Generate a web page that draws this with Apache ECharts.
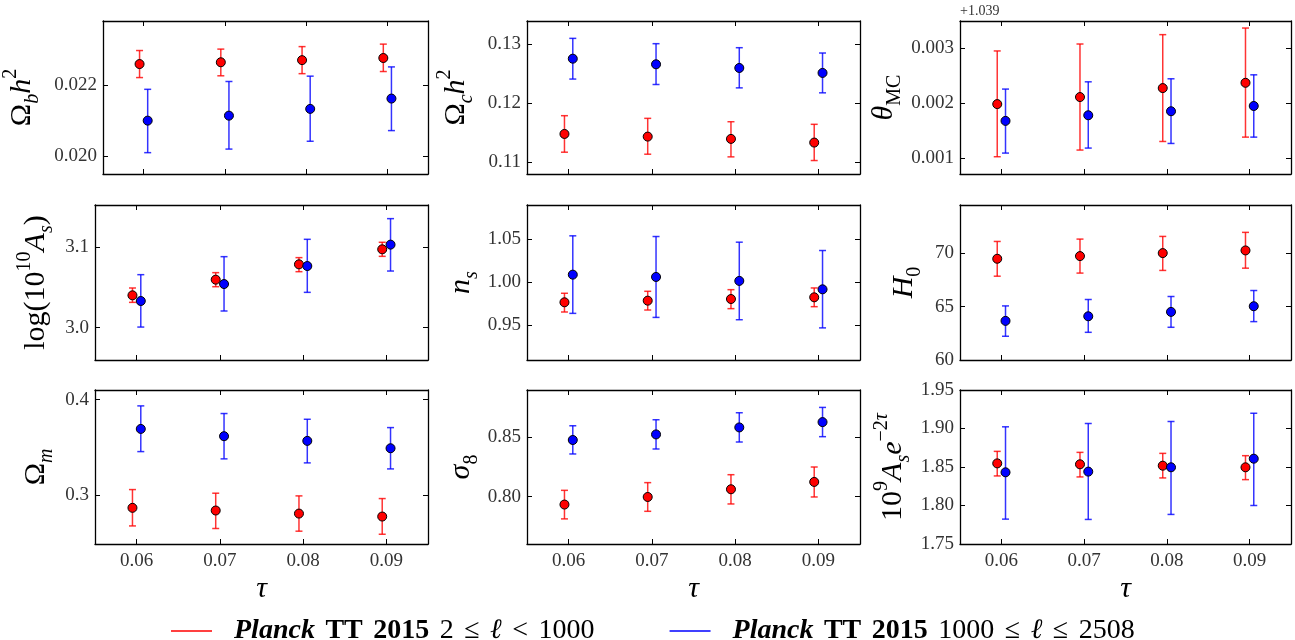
<!DOCTYPE html>
<html><head><meta charset="utf-8">
<script src="https://cdn.jsdelivr.net/npm/echarts@6/dist/echarts.min.js"></script>
<style>html,body{margin:0;padding:0;background:#fff}#c{width:1295px;height:640px}</style>
</head><body><div id="c"></div>
<script>
// ---------------- data ----------------
const tau = [0.06, 0.07, 0.08, 0.09];
const tauTickLabels = ['0.06', '0.07', '0.08', '0.09'];
// each entry: [central value, lower end of error bar, upper end of error bar]
const obh2Low  = [[0.02259,0.02221,0.02297],[0.02264,0.02226,0.02301],[0.02270,0.02232,0.02308],[0.02276,0.02238,0.02315]];
const obh2High = [[0.02100,0.02010,0.02188],[0.02114,0.02020,0.02210],[0.02133,0.02042,0.02225],[0.02162,0.02072,0.02251]];
const och2Low  = [[0.11478,0.11169,0.11787],[0.11433,0.11135,0.11742],[0.11394,0.11090,0.11685],[0.11332,0.11028,0.11641]];
const och2High = [[0.12752,0.12407,0.13096],[0.12657,0.12315,0.13006],[0.12595,0.12258,0.12938],[0.12511,0.12174,0.12848]];
// theta_MC shown relative to the offset +1.039
const thetaOffsetText = '+1.039';
const thetaLow  = [[0.001980,0.001024,0.002946],[0.002108,0.001145,0.003072],[0.002271,0.001301,0.003242],[0.002367,0.001380,0.003362]];
const thetaHigh = [[0.001675,0.001090,0.002253],[0.001777,0.001181,0.002385],[0.001850,0.001265,0.002440],[0.001946,0.001380,0.002512]];
const logAsLow  = [[3.0401,3.0314,3.0492],[3.0595,3.0508,3.0682],[3.0785,3.0694,3.0868],[3.0971,3.0884,3.1058]];
const logAsHigh = [[3.0331,3.0008,3.0657],[3.0541,3.0207,3.0880],[3.0764,3.0438,3.1095],[3.1029,3.0702,3.1351]];
const nsLow  = [[0.9767,0.9654,0.9872],[0.9786,0.9677,0.9895],[0.9805,0.9693,0.9914],[0.9825,0.9716,0.9934]];
const nsHigh = [[1.0089,0.9638,1.0541],[1.0062,0.9591,1.0533],[1.0016,0.9564,1.0467],[0.9918,0.9469,1.0370]];
const h0Low  = [[69.47,67.84,71.09],[69.72,68.13,71.31],[70.00,68.38,71.56],[70.25,68.59,71.94]];
const h0High = [[63.66,62.22,65.06],[64.09,62.59,65.66],[64.50,63.06,65.94],[65.03,63.59,66.50]];
const omLow  = [[0.2868,0.2679,0.3059],[0.2840,0.2652,0.3021],[0.2808,0.2624,0.2993],[0.2777,0.2592,0.2965]];
const omHigh = [[0.3693,0.3456,0.3934],[0.3617,0.3380,0.3854],[0.3568,0.3338,0.3794],[0.3491,0.3275,0.3707]];
const s8Low  = [[0.7933,0.7812,0.8053],[0.7997,0.7876,0.8118],[0.8062,0.7938,0.8185],[0.8124,0.7997,0.8250]];
const s8High = [[0.8478,0.8360,0.8598],[0.8525,0.8402,0.8649],[0.8584,0.8461,0.8708],[0.8629,0.8506,0.8753]];
const asLow  = [[1.8547,1.8384,1.8703],[1.8535,1.8371,1.8690],[1.8517,1.8358,1.8677],[1.8496,1.8336,1.8647]];
const asHigh = [[1.8431,1.7823,1.9022],[1.8440,1.7819,1.9065],[1.8496,1.7884,1.9091],[1.8608,1.8000,1.9198]];
// y tick labels
const obh2Ticks  = ['0.020', '0.022'];
const och2Ticks  = ['0.11', '0.12', '0.13'];
const thetaTicks = ['0.001', '0.002', '0.003'];
const logAsTicks = ['3.0', '3.1'];
const nsTicks    = ['0.95', '1.00', '1.05'];
const h0Ticks    = ['60', '65', '70'];
const omTicks    = ['0.3', '0.4'];
const s8Ticks    = ['0.80', '0.85'];
const asTicks    = ['1.75', '1.80', '1.85', '1.90', '1.95'];
const nameLow  = 'Planck TT 2015 2 ≤ ℓ < 1000';
const nameHigh = 'Planck TT 2015 1000 ≤ ℓ ≤ 2508';

// ---------------- styling / layout ----------------
const SERIF = "Liberation Serif";
const RED = '#ff0000', BLUE = '#0000ff';
const RED_BAR = 'rgba(255,0,0,0.8)', BLUE_BAR = 'rgba(0,0,255,0.8)';
const DODGE = 0.0005;
const COL_L = [95, 527, 960], COL_W = [333, 333, 331];
const ROW_T = [21, 205, 390], ROW_H = [153, 155, 154];
const LFS = 30;
const RICH = {
  r:   {fontFamily: SERIF, fontSize: LFS, lineHeight: 42, color: '#000'},
  i:   {fontFamily: SERIF, fontSize: LFS, lineHeight: 42, fontStyle: 'italic', color: '#000'},
  si:  {fontFamily: SERIF, fontSize: 20, lineHeight: 20, fontStyle: 'italic', verticalAlign: 'bottom', color: '#000'},
  sr:  {fontFamily: SERIF, fontSize: 20, lineHeight: 20, verticalAlign: 'bottom', color: '#000'},
  sup: {fontFamily: SERIF, fontSize: 20, lineHeight: 20, verticalAlign: 'top', color: '#000'},
  supi:{fontFamily: SERIF, fontSize: 20, lineHeight: 20, fontStyle: 'italic', verticalAlign: 'top', color: '#000'}
};
const TICK_RICH = {t: {fontFamily: SERIF, fontSize: 19, color: '#333'}};

const panels = [
  {low: obh2Low, high: obh2High, ticks: obh2Ticks, min: 0.0195, max: 0.0238, gap: 60, label: '{r|Ω}{si|b}{i|h}{sup|2}'},
  {low: och2Low, high: och2High, ticks: och2Ticks, min: 0.1080, max: 0.1339, gap: 50, label: '{r|Ω}{si|c}{i|h}{sup|2}'},
  {low: thetaLow, high: thetaHigh, ticks: thetaTicks, min: 0.00071, max: 0.00349, gap: 55, label: '{i|θ}{sr|MC}'},
  {low: logAsLow, high: logAsHigh, ticks: logAsTicks, min: 2.960, max: 3.152, gap: 38, label: '{r|log(10}{sup|10}{i|A}{si|s}{r|)}'},
  {low: nsLow, high: nsHigh, ticks: nsTicks, min: 0.9095, max: 1.0900, gap: 45, label: '{i|n}{si|s}'},
  {low: h0Low, high: h0High, ticks: h0Ticks, min: 60, max: 74.5, gap: 35, label: '{i|H}{sr|0}'},
  {low: omLow, high: omHigh, ticks: omTicks, min: 0.249, max: 0.410, gap: 38, label: '{r|Ω}{si|m}'},
  {low: s8Low, high: s8High, ticks: s8Ticks, min: 0.760, max: 0.890, gap: 45, label: '{i|σ}{sr|8}'},
  {low: asLow, high: asHigh, ticks: asTicks, min: 1.75, max: 1.95, gap: 46, label: '{r|10}{sup|9}{i|A}{si|s}{i|e}{sup|−2}{supi|τ}'}
];

const axisLine = {show: true, onZero: false, lineStyle: {color: '#000', width: 1.3}};
const tickStyle = {show: true, inside: true, length: 5, lineStyle: {color: '#000', width: 1}};

const grid = [], xAxis = [], yAxis = [], series = [];

function errRender(color) {
  return function (params, api) {
    const x = api.value(0), lo = api.value(1), hi = api.value(2);
    const a = api.coord([x, hi]), b = api.coord([x, lo]);
    const w = 3.5;
    const st = {stroke: color, lineWidth: 1.5, fill: null};
    return {type: 'group', children: [
      {type: 'line', shape: {x1: a[0], y1: a[1], x2: b[0], y2: b[1]}, style: st},
      {type: 'line', shape: {x1: a[0]-w, y1: a[1], x2: a[0]+w, y2: a[1]}, style: st},
      {type: 'line', shape: {x1: b[0]-w, y1: b[1], x2: b[0]+w, y2: b[1]}, style: st}
    ]};
  };
}

panels.forEach((p, k) => {
  const row = Math.floor(k / 3), col = k % 3;
  grid.push({left: COL_L[col], top: ROW_T[row], width: COL_W[col], height: ROW_H[row], containLabel: false});
  const last = row === 2;
  xAxis.push({
    gridIndex: k, type: 'value', min: 0.055, max: 0.095, position: 'bottom',
    axisLine, splitLine: {show: false},
    axisTick: Object.assign({customValues: tau}, tickStyle),
    axisLabel: {show: last, customValues: tau, margin: 8, fontFamily: SERIF, fontSize: 19, color: '#333', rich: TICK_RICH,
      formatter: v => '{t|' + (tauTickLabels[tau.findIndex(t => Math.abs(t - v) < 1e-9)] || '') + '}'},
    name: last ? 'τ' : '', nameLocation: 'middle', nameGap: 30,
    nameTextStyle: {fontFamily: SERIF, fontSize: 30, fontStyle: 'italic', color: '#000'}
  });
  xAxis.push({
    gridIndex: k, type: 'value', min: 0.055, max: 0.095, position: 'top',
    axisLine, splitLine: {show: false},
    axisTick: Object.assign({customValues: tau}, tickStyle),
    axisLabel: {show: false}
  });
  const tv = p.ticks.map(Number);
  yAxis.push({
    gridIndex: k, type: 'value', min: p.min, max: p.max, position: 'left',
    axisLine, splitLine: {show: false},
    axisTick: Object.assign({customValues: tv}, tickStyle),
    axisLabel: {customValues: tv, margin: 6, fontFamily: SERIF, fontSize: 19, color: '#333', rich: TICK_RICH,
      formatter: v => '{t|' + (p.ticks[tv.findIndex(t => Math.abs(t - v) < 1e-12)] || '') + '}'},
    name: p.label, nameLocation: 'middle', nameRotate: 90, nameGap: p.gap,
    nameTextStyle: {rich: RICH}
  });
  yAxis.push({
    gridIndex: k, type: 'value', min: p.min, max: p.max, position: 'right',
    axisLine, splitLine: {show: false},
    axisTick: Object.assign({customValues: tv}, tickStyle),
    axisLabel: {show: false}
  });
  [[p.low, nameLow, RED, RED_BAR, -DODGE], [p.high, nameHigh, BLUE, BLUE_BAR, DODGE]].forEach(([d, name, c, cb, off]) => {
    series.push({
      type: 'custom', name, xAxisIndex: 2 * k, yAxisIndex: 2 * k,
      data: d.map((v, j) => [tau[j] + off, v[1], v[2]]),
      encode: {x: 0, y: [1, 2]}, renderItem: errRender(cb), itemStyle: {color: c}, z: 2, silent: true
    });
    series.push({
      type: 'scatter', name, xAxisIndex: 2 * k, yAxisIndex: 2 * k,
      data: d.map((v, j) => [tau[j] + off, v[0]]),
      symbol: 'circle', symbolSize: 9,
      itemStyle: {color: c, borderColor: '#000', borderWidth: 1, opacity: 1}, z: 3, silent: true
    });
  });
});

const LFS2 = 28;
const LRICH = {
  sp: {width: 17},
  g:  {width: 10.5},
  bi: {fontFamily: SERIF, fontSize: LFS2, fontWeight: 'bold', fontStyle: 'italic', color: '#000', lineHeight: 30},
  b:  {fontFamily: SERIF, fontSize: LFS2, fontWeight: 'bold', color: '#000', lineHeight: 30},
  m:  {fontFamily: SERIF, fontSize: LFS2, color: '#000', lineHeight: 30},
  mi: {fontFamily: SERIF, fontSize: LFS2, fontStyle: 'italic', color: '#000', lineHeight: 30}
};

const option = {
  animation: false,
  backgroundColor: '#fff',
  textStyle: {fontFamily: SERIF},
  grid, xAxis, yAxis, series,
  legend: {
    left: 166, top: 612, itemGap: 75, itemWidth: 41, itemHeight: 1.5, icon: 'rect',
    data: [{name: nameLow, itemStyle: {color: RED}}, {name: nameHigh, itemStyle: {color: BLUE}}],
    selectedMode: false,
    formatter: n => n === nameLow
      ? '{sp|}{bi|Planck}{g|}{b|TT}{g|}{b|2015}{g|}{m|2}{g|}{m|≤}{g|}{mi|ℓ}{g|}{m|<}{g|}{m|1000}'
      : '{sp|}{bi|Planck}{g|}{b|TT}{g|}{b|2015}{g|}{m|1000}{g|}{m|≤}{g|}{mi|ℓ}{g|}{m|≤}{g|}{m|2508}',
    textStyle: {rich: LRICH}
  },
  graphic: [{type: 'text', left: 960, top: 4, style: {text: thetaOffsetText, font: '14px ' + SERIF, fill: '#333'}}]
};

const chart = echarts.init(document.getElementById('c'), null, {renderer: 'canvas'});
chart.setOption(option);
</script></body></html>
